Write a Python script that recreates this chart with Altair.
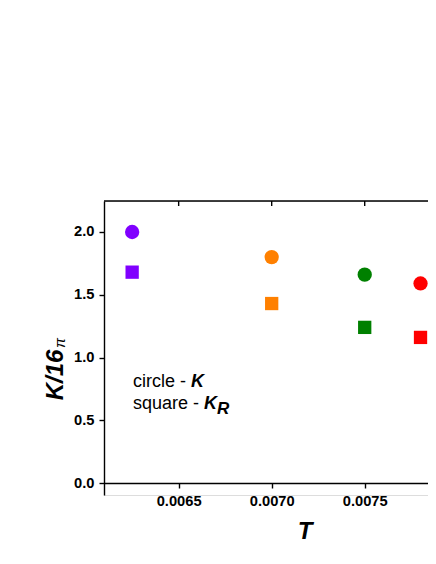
import altair as alt
import pandas as pd

# data
T = [0.00625, 0.0070, 0.0075, 0.0078]
K = [2.00, 1.80, 1.66, 1.59]
KR = [1.68, 1.43, 1.24, 1.16]
COLORS = ["#8000FF", "#FF8000", "#008000", "#FF0000"]
X_TICKS = [0.0065, 0.0070, 0.0075]
Y_TICKS = [0.0, 0.5, 1.0, 1.5, 2.0]

FONT = "Liberation Sans"
W, H = 324, 294

rows = []
for t, k, kr, c in zip(T, K, KR, COLORS):
    rows.append({"T": t, "v": k, "kind": "K", "c": c})
    rows.append({"T": t, "v": kr, "kind": "KR", "c": c})
df = pd.DataFrame(rows)

xscale = alt.Scale(domain=[0.0060987, 0.0078402], nice=False, zero=False)
yscale = alt.Scale(domain=[-0.0956, 2.247], nice=False, zero=False)

xaxis = alt.Axis(values=X_TICKS, format=".4f", title="", grid=False, offset=-12,
                 domainColor="black", domainWidth=1.4, tickColor="black", tickWidth=1.4,
                 tickSize=5, labelFont=FONT, labelFontSize=14.7, labelFontWeight="bold",
                 labelColor="black", labelPadding=5)
yaxis = alt.Axis(values=Y_TICKS, format=".1f", title="", grid=False,
                 domainColor="black", domainWidth=1.4, tickColor="black", tickWidth=1.4,
                 tickSize=5, labelFont=FONT, labelFontSize=14.7, labelFontWeight="bold",
                 labelColor="black", labelPadding=5)

xenc = alt.X("T:Q", scale=xscale, axis=xaxis)
yenc = alt.Y("v:Q", scale=yscale, axis=yaxis)

circles = alt.Chart(df[df.kind == "K"]).mark_point(
    shape="circle", filled=True, opacity=1, size=204, strokeWidth=0
).encode(x=xenc, y=yenc, color=alt.Color("c:N", scale=None))

squares = alt.Chart(df[df.kind == "KR"]).mark_point(
    shape="square", filled=True, opacity=1, size=177, strokeWidth=0
).encode(x=xenc, y=yenc, color=alt.Color("c:N", scale=None))

top_line = alt.Chart(pd.DataFrame({"a": [0]})).mark_rule(
    color="black", strokeWidth=1.4
).encode(x=alt.value(0), x2=alt.value(W), y=alt.value(0))

top_ticks = alt.Chart(pd.DataFrame({"T": X_TICKS})).mark_rule(
    color="black", strokeWidth=1.4
).encode(x=xenc, y=alt.value(0), y2=alt.value(5))


def label(text, x, y, size, weight="normal", style="normal", angle=0, align="left"):
    return alt.Chart(pd.DataFrame({"t": [text]})).mark_text(
        font=FONT, fontSize=size, fontWeight=weight, fontStyle=style,
        angle=angle, align=align, baseline="alphabetic", color="black"
    ).encode(x=alt.value(x), y=alt.value(y), text="t:N")


texts = [
    label("K/16", -41, 174, 24, "bold", "italic", angle=270, align="center"),
    label("π", -39, 142, 15, "normal", "italic", angle=270, align="center"),
    label("T", 201, 338, 24, "bold", "italic", align="center"),
    label("circle - ", 29, 186, 18),
    label("K", 87, 186, 18, "bold", "italic"),
    label("square - ", 29, 208, 18),
    label("K", 100, 208, 18, "bold", "italic"),
    label("R", 113, 213, 17, "bold", "italic"),
]

chart = alt.layer(top_line, top_ticks, circles, squares, *texts).properties(
    width=W, height=H,
    autosize=alt.AutoSizeParams(type="none"),
    padding={"left": 96, "top": 193, "right": 0, "bottom": 50},
).configure_view(stroke=None).configure(background="white")

chart.save("out.html", embed_options={"renderer": "svg", "actions": False})
